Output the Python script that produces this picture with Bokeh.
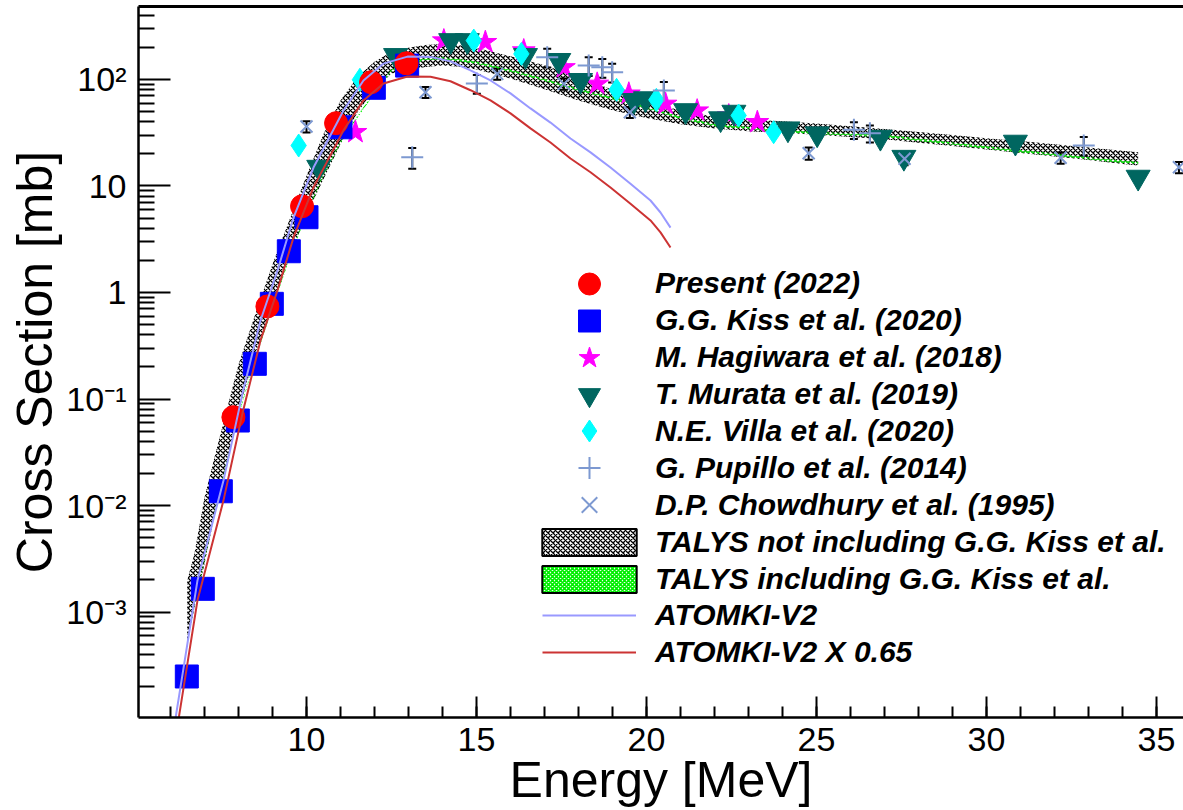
import numpy as np
from bokeh.plotting import figure
from bokeh.models import (Range1d, FixedTicker, CustomJSTickFormatter, Legend, LegendItem,
                          ColumnDataSource, Whisker, TeeHead, LinearAxis)
from bokeh.embed import file_html
from bokeh.resources import INLINE

FONT = "Liberation Sans"

# ---------------- data ----------------
present_E = [7.85, 8.85, 9.87, 10.87, 11.9, 12.94]
present_xs = [0.0675, 0.74, 6.46, 38.9, 94.4, 142.0]

kiss_E = [6.48, 6.95, 7.48, 7.98, 8.48, 8.98, 9.48, 10.0, 11.0, 11.98, 12.96]
kiss_xs = [2.48e-4, 1.65e-3, 0.0136, 0.0628, 0.214, 0.783, 2.44, 5.09, 35.6, 83.6, 135.0]

hagiwara_E = [11.44, 14.04, 15.26, 16.39, 17.57, 18.55, 19.48, 20.56, 21.49, 22.42, 23.26]
hagiwara_xs = [32.0, 232.0, 224.0, 187.0, 130.0, 91.0, 73.5, 59.0, 51.0, 45.9, 39.7]

murata_E = [10.36, 12.62, 14.24, 14.73, 16.44, 17.42, 18.06, 19.63, 19.97, 21.15, 22.18,
            22.57, 24.16, 25.02, 26.88, 27.57, 30.85, 34.46]
murata_xs = [15.0, 168.0, 232.0, 232.0, 168.0, 151.0, 98.0, 63.5, 66.0, 51.0, 42.8,
             49.3, 34.4, 30.9, 28.7, 18.6, 25.8, 12.1]

villa_E = [9.77, 11.57, 14.92, 16.32, 19.12, 20.29, 22.71, 23.74]
villa_xs = [24.0, 99.4, 232.0, 174.0, 80.0, 64.4, 45.9, 32.0]

pupillo_E = [13.11, 15.01, 17.08, 18.30, 18.70, 18.99, 20.51, 26.10, 26.57, 32.86]
pupillo_xs = [18.6, 91.7, 162.0, 135.0, 130.0, 117.0, 78.9, 33.7, 31.3, 24.0]
pupillo_relerr = [0.22, 0.2, 0.2, 0.2, 0.2, 0.2, 0.2, 0.18, 0.18, 0.2]

chowdhury_E = [10.0, 13.5, 15.61, 17.57, 19.51, 24.77, 27.59, 32.18, 35.66]
chowdhury_xs = [36.2, 76.0, 113.0, 91.0, 49.3, 20.3, 18.0, 18.4, 15.0]
chowdhury_relerr = [0.12, 0.12, 0.12, 0.12, 0.12, 0.13, 0.13, 0.12, 0.12]

# TALYS bands
talys_E = [6.49, 6.7, 7.0, 7.3, 7.6, 8.0, 8.5, 9.0, 9.5, 10.0, 10.5, 11.0, 11.5, 12.0, 12.5,
           13.0, 13.5, 14.0, 14.5, 15.0, 15.5, 16.0, 17.0, 18.0, 19.0, 20.0, 21.0, 22.0, 23.0,
           24.0, 25.0, 26.0, 27.0, 28.0, 29.0, 30.0, 31.0, 32.0, 33.0, 34.0, 34.46]
talys_noKiss_hi = [1.98e-3, 3.48e-3, 0.0119, 0.0288, 0.0678, 0.211, 0.635, 1.84, 4.82, 12.5,
                   30.7, 63.5, 106.0, 147.0, 182.0, 199.0, 211.0, 215.0, 210.0, 198.0, 181.0,
                   165.0, 136.0, 106.0, 80.2, 62.8, 51.2, 44.6, 42.1, 40.6, 38.6, 36.3, 34.2,
                   32.1, 30.1, 28.1, 26.4, 24.6, 23.0, 21.4, 20.7]
talys_noKiss_lo = [5.04e-4, 1.08e-3, 2.82e-3, 8.24e-3, 0.0215, 0.0767, 0.27, 0.735, 2.19, 5.36,
                   11.6, 24.6, 49.2, 80.2, 114.0, 123.0, 131.0, 135.0, 132.0, 124.0, 113.0,
                   102.0, 81.1, 63.4, 51.5, 43.5, 38.0, 34.6, 32.7, 31.6, 30.3, 28.9, 27.5,
                   25.5, 23.7, 22.0, 20.4, 18.9, 17.5, 16.1, 15.6]
talys_Kiss_mid = [5.06e-4, 1.16e-3, 3.05e-3, 8.85e-3, 0.0217, 0.0705, 0.243, 0.731, 2.10, 5.55,
                  12.8, 25.8, 44.8, 75.7, 122.0, 138.0, 156.0, 158.0, 152.0, 143.0, 132.0,
                  121.0, 99.1, 79.8, 66.4, 54.5, 43.7, 37.3, 34.9, 32.7, 31.4, 30.5, 29.5,
                  27.2, 25.0, 23.0, 21.2, 19.7, 18.2, 16.9, 16.4]
talys_Kiss_halfwidth = 0.025   # relative half width of the narrow band

# ATOMKI-V2 calculation
atomki_E = [6.05, 6.147, 6.794, 7.559, 8.118, 8.647, 9.147, 9.618, 10.206, 11.088, 11.676,
            12.265, 12.971, 13.647, 14.235, 14.824, 15.412, 16.0, 16.588, 17.176, 17.765,
            18.353, 18.941, 19.529, 20.118, 20.412, 20.706]
atomki_xs = [6.46e-5, 1.0e-4, 1.98e-3, 0.0172, 0.113, 0.546, 1.61, 5.06, 14.9, 51.2, 97.9,
             141.0, 164.0, 163.0, 148.0, 122.0, 97.9, 74.0, 53.5, 39.4, 27.9, 20.7, 14.9,
             10.5, 7.31, 5.64, 4.07]
atomki_scale = 0.65

# axis ticks
xtick_values = [10, 15, 20, 25, 30, 35]
ytick_values = [1e-3, 1e-2, 1e-1, 1.0, 10.0, 100.0]
ytick_labels = ["10\u207b\u00b3", "10\u207b\u00b2", "10\u207b\u00b9", "1", "10", "10\u00b2"]

# ---------------- figure ----------------
W, H = 1183, 810
ML, MT, MB = 138, 6, 93
p = figure(width=W, height=H,
           x_range=Range1d(5.059, 35.794), y_range=Range1d(1.022e-4, 484.6),
           y_axis_type="log", output_backend="svg", toolbar_location=None,
           min_border_left=ML, min_border_right=0, min_border_top=MT, min_border_bottom=MB)
p.background_fill_color = "white"
p.border_fill_color = "white"
p.outline_line_color = None
p.grid.visible = False

xminor = list(range(6, 36))
yminor = [k * 10.0 ** d for d in range(-4, 3) for k in range(2, 10)]

p.xaxis.ticker = FixedTicker(ticks=xtick_values, minor_ticks=xminor)
p.yaxis.ticker = FixedTicker(ticks=ytick_values, minor_ticks=yminor)
p.yaxis.formatter = CustomJSTickFormatter(args=dict(vals=ytick_values, labs=ytick_labels), code="""
for (let i = 0; i < vals.length; i++) {
  if (Math.abs(Math.log10(tick) - Math.log10(vals[i])) < 1e-6) { return labs[i]; }
}
return "";
""")

for ax in (p.xaxis, p.yaxis):
    ax.axis_line_width = 2.5
    ax.axis_line_color = "black"
    ax.major_tick_out = 0
    ax.minor_tick_out = 0
    ax.major_tick_line_width = 2
    ax.minor_tick_line_width = 2
    ax.major_tick_line_color = "black"
    ax.minor_tick_line_color = "black"
    ax.major_label_text_font = FONT
    ax.major_label_text_font_size = "34px"
    ax.major_label_text_color = "black"
    ax.axis_label_text_font = FONT
    ax.axis_label_text_font_size = "50px"
    ax.axis_label_text_font_style = "normal"
    ax.axis_label_text_color = "black"
p.xaxis.major_tick_in = 21
p.xaxis.minor_tick_in = 11
p.yaxis.major_tick_in = 32
p.yaxis.minor_tick_in = 16
p.xaxis.major_label_standoff = 10
p.yaxis.major_label_standoff = 12
p.xaxis.axis_label = "Energy [MeV]"
p.yaxis.axis_label = "Cross Section [mb]"
p.xaxis.axis_label_standoff = -2
p.yaxis.axis_label_standoff = 0

top_axis = LinearAxis(ticker=FixedTicker(ticks=[]), axis_line_width=3, axis_line_color="black",
                      major_tick_in=0, major_tick_out=0, minor_tick_in=0, minor_tick_out=0,
                      major_label_standoff=0)
p.add_layout(top_axis, "above")

# ---------------- bands ----------------
p.varea(x=talys_E, y1=talys_noKiss_lo, y2=talys_noKiss_hi,
        fill_alpha=0, hatch_pattern="x", hatch_color="black",
        hatch_scale=5, hatch_weight=1.25)
mid = np.array(talys_Kiss_mid)
p.varea(x=talys_E, y1=mid * (1 - talys_Kiss_halfwidth), y2=mid * (1 + talys_Kiss_halfwidth),
        fill_alpha=0, hatch_pattern="x", hatch_color="#00ee00",
        hatch_scale=5, hatch_weight=1.4)

# ---------------- markers ----------------
r_hag = p.scatter(hagiwara_E, hagiwara_xs, marker="star", size=24,
                  fill_color="#ff00ff", line_color="#ff00ff")
r_mur = p.scatter(murata_E, murata_xs, marker="inverted_triangle", size=24,
                  fill_color="#006660", line_color="#006660")
r_vil = p.scatter(villa_E, villa_xs, marker="diamond", size=23,
                  fill_color="#00ffff", line_color="#00ffff")
r_pup = p.scatter(pupillo_E, pupillo_xs, marker="cross", size=22,
                  line_color="#7d99d1", line_width=2)
r_cho = p.scatter(chowdhury_E, chowdhury_xs, marker="x", size=17,
                  line_color="#7d99d1", line_width=2)
r_kiss = p.scatter(kiss_E, kiss_xs, marker="square", size=23,
                   fill_color="#0000ff", line_color="#0000ff")
r_pres = p.scatter(present_E, present_xs, marker="circle", size=23,
                   fill_color="#ff0000", line_color="#ff0000")

# error bars
pup_src = ColumnDataSource(dict(
    x=pupillo_E,
    upper=[v * (1 + e) for v, e in zip(pupillo_xs, pupillo_relerr)],
    lower=[v * (1 - e) for v, e in zip(pupillo_xs, pupillo_relerr)]))
cho_src = ColumnDataSource(dict(
    x=chowdhury_E,
    upper=[v * (1 + e) for v, e in zip(chowdhury_xs, chowdhury_relerr)],
    lower=[v * (1 - e) for v, e in zip(chowdhury_xs, chowdhury_relerr)]))
for src in (pup_src, cho_src):
    p.add_layout(Whisker(source=src, base="x", upper="upper", lower="lower", dimension="height",
                         line_color="black", line_width=2,
                         upper_head=TeeHead(size=8, line_color="black", line_width=2),
                         lower_head=TeeHead(size=8, line_color="black", line_width=2)))

# ---------------- lines ----------------
r_at = p.line(atomki_E, atomki_xs, line_color="#9999ff", line_width=2)
r_at2 = p.line(atomki_E, [v * atomki_scale for v in atomki_xs], line_color="#cc3333", line_width=2)

# legend swatches for the bands (no visible data: NaN geometry)
nan = float("nan")
leg_b1 = p.quad(left=[nan], right=[nan], top=[nan], bottom=[nan], fill_color="white",
                hatch_pattern="x", hatch_color="black", hatch_scale=5, hatch_weight=1.25,
                line_color="black", line_width=2)
leg_b2 = p.quad(left=[nan], right=[nan], top=[nan], bottom=[nan], fill_color="white",
                hatch_pattern="x", hatch_color="#00ee00", hatch_scale=4, hatch_weight=1.8,
                line_color="black", line_width=2)

# ---------------- legend: one block per row ----------------
rows = [
    ("Present (2022)", r_pres, "marker"),
    ("G.G. Kiss et al. (2020)", r_kiss, "marker"),
    ("M. Hagiwara et al. (2018)", r_hag, "marker"),
    ("T. Murata et al. (2019)", r_mur, "marker"),
    ("N.E. Villa et al. (2020)", r_vil, "marker"),
    ("G. Pupillo et al. (2014)", r_pup, "marker"),
    ("D.P. Chowdhury et al. (1995)", r_cho, "marker"),
    ("TALYS not including G.G. Kiss et al.", leg_b1, "box"),
    ("TALYS including G.G. Kiss et al.", leg_b2, "box"),
    ("ATOMKI-V2", r_at, "line"),
    ("ATOMKI-V2 X 0.65", r_at2, "line"),
]
frame_bottom = H - MB
row0, pitch = 283.3, 36.9
glyph_left = 542 - ML
for i, (lab, rend, kind) in enumerate(rows):
    yc = row0 + pitch * i
    if kind == "marker":
        gw, gh, dx, so = 94, 55, 0, 19
    elif kind == "box":
        gw, gh, dx, so = 118, 34, -12, 7
    else:
        gw, gh, dx, so = 94, 34, 0, 19
    leg = Legend(items=[LegendItem(label=lab, renderers=[rend])],
                 location=(glyph_left + dx, frame_bottom - (yc + gh / 2.0)),
                 glyph_width=gw, glyph_height=gh, label_height=gh, label_standoff=so,
                 spacing=0, padding=0, margin=0, border_line_color=None,
                 background_fill_alpha=0,
                 label_text_font=FONT, label_text_font_style="bold italic",
                 label_text_font_size="30px", label_text_color="black")
    p.add_layout(leg)

open("out.html", "w").write(file_html(p, INLINE))
